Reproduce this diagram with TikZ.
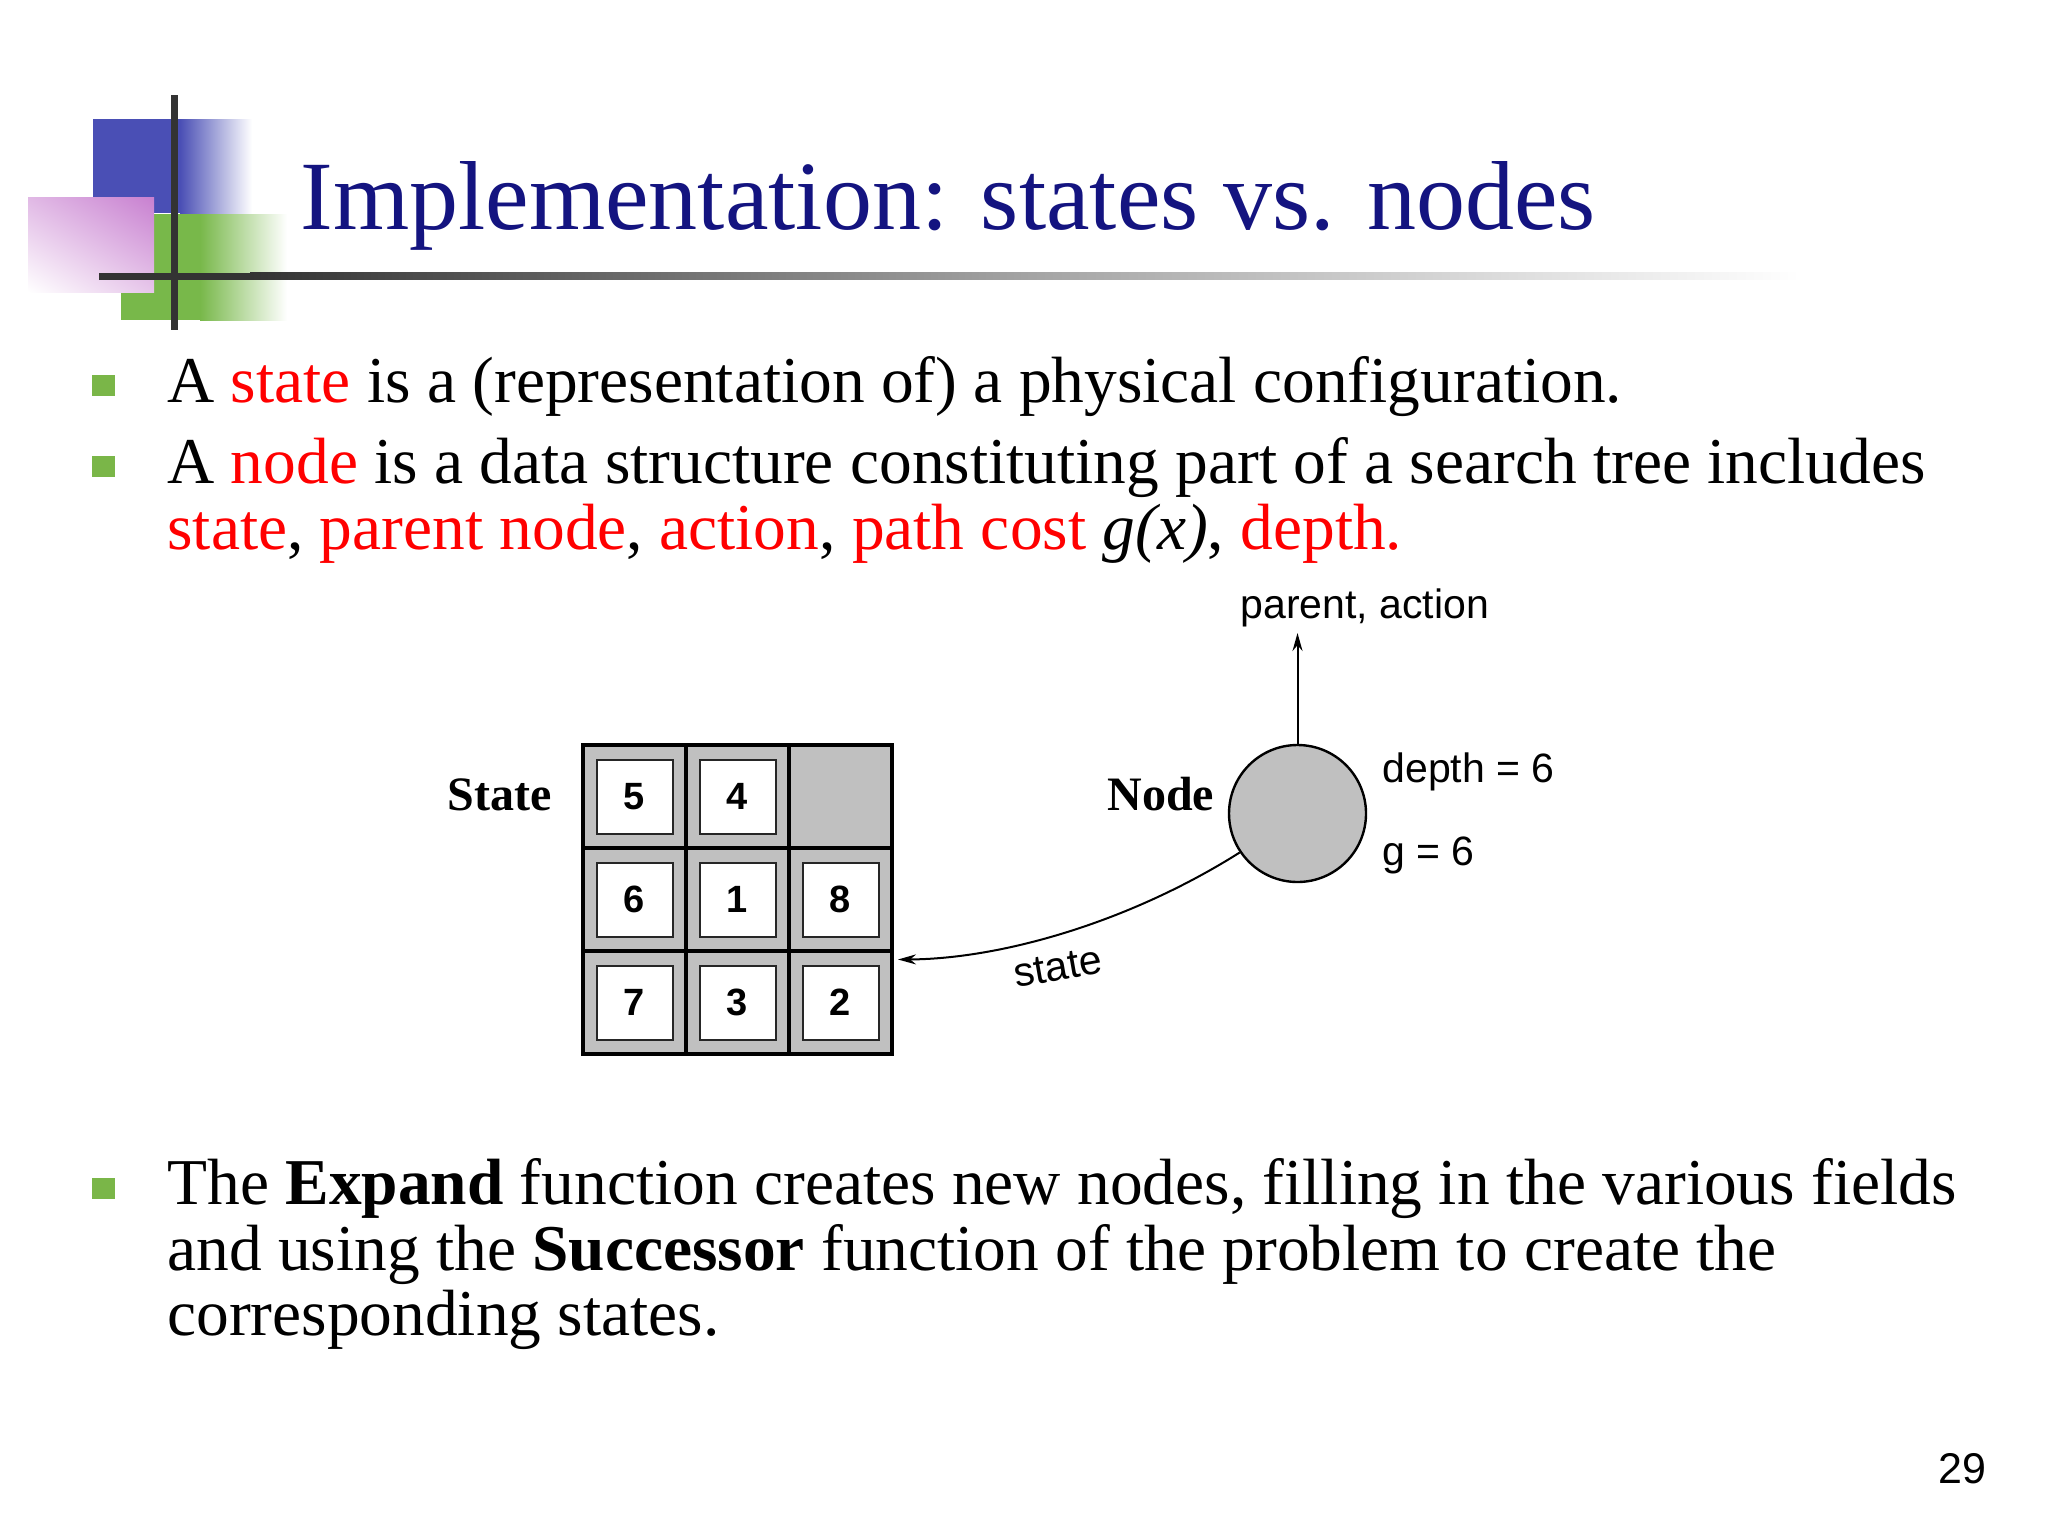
\documentclass[tikz,border=0pt]{standalone}
\usepackage{fontspec}
\setmainfont{Liberation Serif}
\setsansfont{Liberation Sans}
\usetikzlibrary{arrows.meta,shadings}
\definecolor{titleblue}{RGB}{20,20,128}
\definecolor{slidered}{RGB}{255,0,0}
\definecolor{bulletgreen}{RGB}{122,182,72}
\definecolor{logoblue}{RGB}{74,79,181}
\definecolor{logogreen}{RGB}{120,184,74}
\definecolor{logopink}{RGB}{200,128,208}
\definecolor{logodark}{RGB}{51,51,51}
\definecolor{tilegray}{RGB}{192,192,192}
\newcommand{\hl}[1]{\textcolor{slidered}{#1}}
\begin{document}
\begin{tikzpicture}[x=0.5pt,y=0.5pt,
  bodytext/.style={anchor=base west, inner sep=0, font=\fontsize{32.7pt}{40pt}\selectfont},
  bulletbox/.style={rectangle, fill=bulletgreen, minimum width=11.5pt, minimum height=10.5pt, inner sep=0},
  cell/.style={rectangle, draw=black, line width=2pt, fill=tilegray, minimum width=51.5pt, minimum height=51.5pt, inner sep=0},
  tile/.style={rectangle, draw=black!85, line width=1pt, fill=white, minimum width=38pt, minimum height=37pt, inner sep=0, font=\sffamily\bfseries\fontsize{19pt}{22pt}\selectfont},
  difflabel/.style={inner sep=0, font=\sffamily\fontsize{20.5pt}{24pt}\selectfont},
  boldlabel/.style={anchor=base west, inner sep=0, font=\bfseries\fontsize{24pt}{28pt}\selectfont},
  arrowline/.style={line width=1pt, -{Stealth[length=9pt,width=5pt]}}
]
\useasboundingbox[fill=white] (0,0) rectangle (2048,-1536);
% logo
\fill[logoblue] (93,-119) rectangle (180,-213);
\shade[left color=logoblue, right color=white] (180,-119) rectangle (252,-213);
\fill[logogreen] (121,-214) rectangle (200,-320);
\shade[left color=logogreen, right color=white] (200,-214) rectangle (287,-320);
\shade[upper right=logopink, upper left=logopink!55, lower left=white, lower right=logopink!45] (28,-197) rectangle (154,-292);
\fill[logodark] (99,-272.5) rectangle (250,-279.5);
\shade[left color=logodark, right color=white, middle color=logodark!45] (250,-272.5) rectangle (1800,-279.5);
\fill[logodark] (170.5,-95) rectangle (177.5,-330);
% title
\node[anchor=base west, inner sep=0, text=titleblue, font=\fontsize{49pt}{56pt}\selectfont] (title) at (300,-229) {Implementation: states vs. nodes};
% bullets
\node[bulletbox] (b1) at (103.5,-385.5) {};
\node[bulletbox] (b2) at (103.5,-466) {};
\node[bulletbox] (b3) at (103.5,-1188) {};
\node[bodytext] (l1) at (167,-402) {A \hl{state} is a (representation of) a physical configuration.};
\node[bodytext] (l2) at (167,-483) {A \hl{node} is a data structure constituting part of a search tree includes};
\node[bodytext] (l3) at (167,-549) {\hl{state}, \hl{parent node}, \hl{action}, \hl{path cost} \textit{g(x)}, \hl{depth.}};
\node[bodytext] (l4) at (167,-1204) {The \textbf{Expand} function creates new nodes, filling in the various fields};
\node[bodytext] (l5) at (167,-1270) {and using the \textbf{Successor} function of the problem to create the};
\node[bodytext] (l6) at (167,-1335) {corresponding states.};
% puzzle
\node[cell, minimum width=154.5pt, minimum height=154.5pt] (grid) at (737.5,-899.5) {};
\node[cell] (c11) at (634.5,-796.5) {};
\node[cell] (c12) at (737.5,-796.5) {};
\node[cell] (c13) at (840.5,-796.5) {};
\node[cell] (c21) at (634.5,-899.5) {};
\node[cell] (c22) at (737.5,-899.5) {};
\node[cell] (c23) at (840.5,-899.5) {};
\node[cell] (c31) at (634.5,-1002.5) {};
\node[cell] (c32) at (737.5,-1002.5) {};
\node[cell] (c33) at (840.5,-1002.5) {};
\node[tile] (t5) at (c11) {5};
\node[tile] (t4) at (c12) {4};
\node[tile] (t6) at (c21) {6};
\node[tile] (t1) at (c22) {1};
\node[tile] (t8) at (c23) {8};
\node[tile] (t7) at (c31) {7};
\node[tile] (t3) at (c32) {3};
\node[tile] (t2) at (c33) {2};
\node[boldlabel] (statelbl) at (447,-810) {State};
\node[boldlabel] (nodelbl) at (1107,-810) {Node};
% node circle
\node[circle, draw=black, line width=1.2pt, fill=tilegray, minimum size=68.5pt, inner sep=0] (nd) at (1297.5,-813.5) {};
\coordinate (uptip) at (1297.5,-633);
\draw[arrowline] (nd.north) -- (uptip);
\node[difflabel, anchor=base west] (parent) at (1240,-618) {parent, action};
\node[difflabel, anchor=base west] (depth) at (1382,-782) {depth = 6};
\node[difflabel, anchor=base west] (gval) at (1382,-865) {g = 6};
\coordinate (gtip) at ([xshift=2pt,yshift=-30pt]grid.east);
\draw[arrowline] (nd.214) .. controls (1128,-923) and (1000,-959) .. (gtip);
\node[difflabel, rotate=10] (statearrow) at (1058,-967) {state};
% page number
\node[anchor=base west, inner sep=0, font=\sffamily\fontsize{21.5pt}{24pt}\selectfont] (page) at (1938,-1483) {29};
\end{tikzpicture}
\end{document}
